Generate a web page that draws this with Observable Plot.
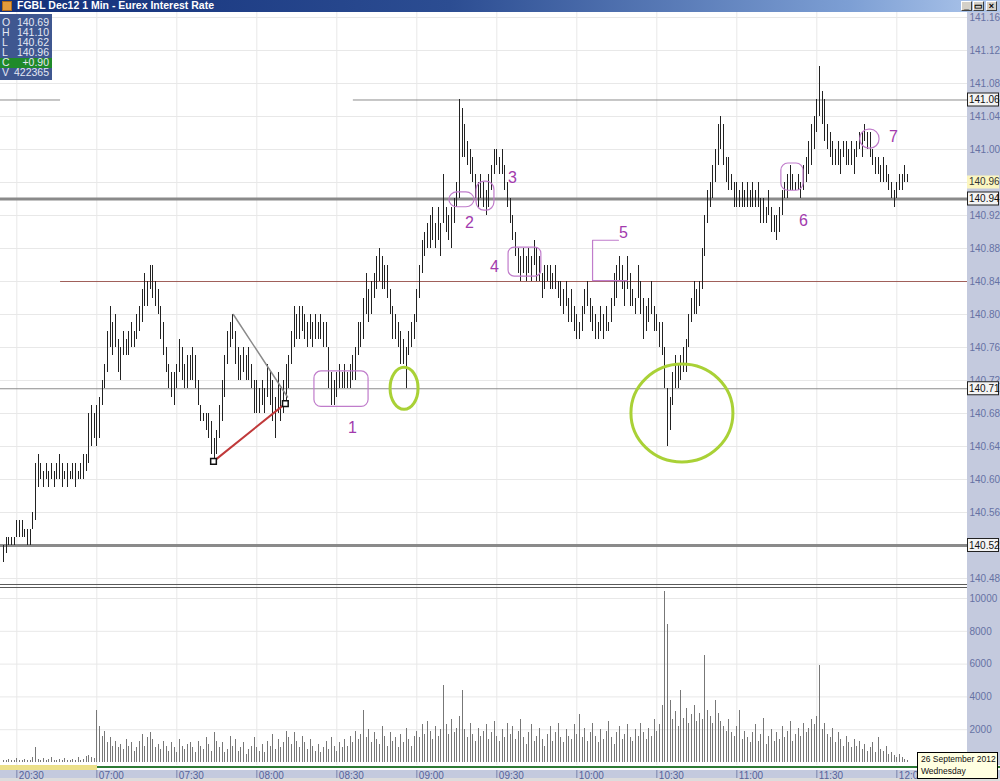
<!DOCTYPE html>
<html><head><meta charset="utf-8">
<script src="https://cdn.jsdelivr.net/npm/d3@7"></script>
<script src="https://cdn.jsdelivr.net/npm/@observablehq/plot@0.6"></script>
<style>
html,body{margin:0;padding:0;background:#fff;}
#root{position:relative;width:1000px;height:781px;overflow:hidden;background:#fff;font-family:"Liberation Sans",Arial,sans-serif;}
#root > *{position:absolute;}
</style></head><body><div id="root"></div>
<script>
// ---------------- DATA ----------------
const title = "FGBL Dec12 1 Min - Eurex Interest Rate";
const infoKeys = ["O","H","L","L","C","V"];
const infoVals = ["140.69","141.10","140.62","140.96","+0.90","422365"];
const dateLine1 = "26 September 2012";
const dateLine2 = "Wednesday";

// time axis (bar index of each label)
const timeLabels = ["20:30","07:00","07:30","08:00","08:30","09:00","09:30","10:00","10:30","11:00","11:30","12:00"];
const timeLabelBar = [5,35,65,95,125,155,185,215,245,275,305,335];

const priceTicks = [140.48,140.52,140.56,140.60,140.64,140.68,140.72,140.76,140.80,140.84,140.88,140.92,140.96,141.00,141.04,141.08,141.12,141.16];
const volumeTicks = [2000,4000,6000,8000,10000];

// 1-minute bars: highs and lows
const high = [
140.52,140.53,140.53,140.53,140.53,140.55,140.55,140.55,140.54,140.54,
140.54,140.56,140.62,140.63,140.62,140.61,140.62,140.61,140.62,140.61,
140.62,140.63,140.62,140.61,140.62,140.61,140.62,140.62,140.61,140.62,
140.63,140.63,140.68,140.69,140.68,140.69,140.70,140.72,140.74,140.78,
140.81,140.79,140.80,140.77,140.76,140.78,140.77,140.78,140.79,140.78,
140.80,140.81,140.83,140.85,140.84,140.86,140.86,140.84,140.83,140.81,
140.79,140.76,140.74,140.73,140.73,140.74,140.77,140.76,140.74,140.75,
140.75,140.76,140.75,140.72,140.69,140.68,140.68,140.68,140.67,140.65,
140.66,140.69,140.72,140.75,140.78,140.79,140.80,140.78,140.76,140.75,
140.76,140.75,140.76,140.74,140.72,140.72,140.71,140.72,140.71,140.74,
140.73,140.72,140.70,140.73,140.71,140.72,140.74,140.75,140.78,140.81,
140.80,140.81,140.81,140.80,140.79,140.80,140.79,140.80,140.79,140.80,
140.79,140.79,140.76,140.73,140.72,140.73,140.74,140.73,140.74,140.73,
140.74,140.75,140.76,140.79,140.79,140.82,140.85,140.83,140.84,140.85,
140.87,140.88,140.87,140.86,140.86,140.83,140.81,140.80,140.79,140.78,
140.77,140.76,140.78,140.79,140.80,140.83,140.86,140.89,140.90,140.91,
140.92,140.93,140.91,140.93,140.91,140.97,140.93,140.92,140.93,140.94,
140.96,141.06,141.05,141.03,141.01,141.00,140.99,140.97,140.96,140.97,
140.96,140.95,140.97,140.98,141.00,141.00,140.99,141.00,140.98,140.96,
140.94,140.92,140.90,140.88,140.87,140.88,140.87,140.88,140.87,140.89,
140.88,140.87,140.85,140.86,140.86,140.86,140.85,140.86,140.84,140.84,
140.83,140.84,140.82,140.83,140.81,140.80,140.79,140.81,140.83,140.84,
140.82,140.81,140.80,140.79,140.81,140.80,140.81,140.79,140.82,140.85,
140.86,140.87,140.86,140.84,140.87,140.85,140.83,140.82,140.86,140.84,
140.82,140.81,140.82,140.84,140.81,140.80,140.79,140.79,140.76,140.71,
140.70,140.73,140.75,140.74,140.75,140.76,140.77,140.80,140.82,140.84,
140.83,140.84,140.88,140.92,140.95,140.96,140.98,141.00,141.03,141.04,
141.03,140.99,140.99,140.97,140.96,140.96,140.95,140.96,140.95,140.96,
140.95,140.96,140.95,140.96,140.94,140.94,140.93,140.95,140.93,140.92,
140.92,140.93,140.95,140.96,140.97,140.98,140.97,140.96,140.97,140.96,
140.98,140.99,141.01,141.03,141.04,141.06,141.10,141.07,141.06,141.03,
141.02,141.01,141.00,141.01,141.00,141.01,141.01,141.00,141.01,141.00,
141.01,141.02,141.02,141.03,141.02,141.02,141.00,140.99,140.99,140.98,
140.99,140.98,140.97,140.96,140.95,140.96,140.97,140.97,140.98,140.97
];
const low = [
140.50,140.51,140.52,140.52,140.52,140.53,140.53,140.53,140.53,140.52,
140.52,140.54,140.55,140.59,140.60,140.59,140.60,140.59,140.60,140.59,
140.60,140.60,140.59,140.60,140.59,140.60,140.60,140.59,140.60,140.60,
140.60,140.61,140.62,140.64,140.65,140.64,140.65,140.69,140.71,140.73,
140.76,140.75,140.76,140.73,140.72,140.75,140.75,140.75,140.76,140.76,
140.77,140.78,140.79,140.81,140.81,140.83,140.82,140.81,140.80,140.77,
140.75,140.73,140.71,140.70,140.69,140.71,140.73,140.72,140.71,140.71,
140.72,140.72,140.71,140.69,140.67,140.67,140.66,140.65,140.63,140.62,
140.63,140.65,140.67,140.70,140.74,140.76,140.77,140.74,140.72,140.72,
140.73,140.72,140.72,140.71,140.68,140.68,140.68,140.69,140.68,140.70,
140.69,140.67,140.65,140.68,140.67,140.68,140.69,140.71,140.74,140.76,
140.77,140.77,140.78,140.77,140.76,140.77,140.76,140.77,140.77,140.77,
140.76,140.76,140.71,140.69,140.69,140.70,140.71,140.71,140.71,140.71,
140.71,140.72,140.72,140.75,140.76,140.77,140.80,140.79,140.80,140.82,
140.83,140.84,140.83,140.83,140.82,140.80,140.77,140.77,140.76,140.74,
140.74,140.71,140.75,140.76,140.77,140.79,140.82,140.85,140.87,140.88,
140.88,140.89,140.88,140.89,140.87,140.91,140.90,140.89,140.88,140.91,
140.93,140.94,140.99,140.99,140.98,140.97,140.96,140.94,140.93,140.94,
140.93,140.92,140.93,140.95,140.97,140.98,140.97,140.97,140.95,140.93,
140.91,140.89,140.87,140.85,140.84,140.85,140.84,140.85,140.84,140.86,
140.84,140.84,140.82,140.83,140.84,140.83,140.83,140.83,140.82,140.81,
140.80,140.81,140.79,140.79,140.78,140.77,140.77,140.78,140.80,140.81,
140.79,140.78,140.77,140.77,140.78,140.77,140.78,140.78,140.79,140.81,
140.82,140.84,140.83,140.81,140.83,140.81,140.81,140.80,140.82,140.80,
140.77,140.78,140.79,140.80,140.78,140.78,140.76,140.75,140.71,140.64,
140.66,140.69,140.71,140.71,140.72,140.73,140.73,140.76,140.79,140.80,
140.80,140.81,140.83,140.87,140.91,140.93,140.94,140.96,140.98,141.00,
140.98,140.96,140.95,140.95,140.93,140.93,140.93,140.93,140.93,140.93,
140.93,140.93,140.93,140.93,140.91,140.91,140.91,140.92,140.90,140.90,
140.89,140.90,140.92,140.94,140.94,140.95,140.95,140.95,140.95,140.94,
140.95,140.96,140.97,140.98,141.00,141.02,141.04,141.03,141.01,141.00,
140.99,140.98,140.98,140.98,140.97,140.99,140.98,140.98,140.98,140.97,
140.99,141.00,140.99,141.01,141.00,140.99,140.98,140.97,140.97,140.96,
140.96,140.96,140.95,140.94,140.93,140.94,140.95,140.95,140.96,140.96
];
const volume = [
150,100,200,150,100,250,100,150,200,100,
150,300,900,200,150,250,100,200,300,150,
100,200,150,250,100,150,200,100,300,150,
200,350,450,300,250,3200,2200,1600,1900,1200,
1500,1000,1300,900,1100,800,1400,1000,1200,700,
900,1300,1700,1000,1500,1800,1400,900,1100,800,
1300,1000,700,1200,900,600,1400,1000,800,1100,
1200,900,600,1300,1000,800,1500,1100,700,1800,
1300,900,1200,600,800,1600,1000,1400,700,900,
1200,500,800,1000,1500,900,700,1100,600,1300,
1000,1700,800,1400,900,1200,1900,1500,1100,1800,
1300,900,1600,1200,800,1400,1000,700,1100,600,
900,1300,800,1500,1000,700,1200,900,1400,1000,
1600,1200,1900,1400,1700,3200,1500,2000,1200,1800,
1400,1100,2200,1600,1000,1800,1300,1500,900,1700,
1200,2100,1400,1000,1600,1900,1500,2300,1700,2500,
1900,1400,2200,1600,2000,4700,2300,1700,2600,1800,
2100,2800,4400,2000,1500,2400,1700,1300,2100,1600,
1900,2300,1400,1800,2500,1600,1300,2000,1500,2400,
1700,2200,1400,1900,2600,1500,1100,1800,2300,1300,
1600,2100,1400,1000,1700,2200,1300,1800,2400,1500,
1200,2000,1600,1400,2300,1700,2900,1500,2100,1300,
1800,2400,1600,1200,2000,1400,1900,2500,1500,1100,
1800,2200,1400,1700,2300,1500,1300,2000,1600,2400,
1800,1400,2100,1600,2600,1900,2300,3500,10400,8400,
3800,2600,3100,2200,4400,2700,3300,2400,2900,3500,
2500,3000,2600,6500,3200,2800,2400,3800,3000,2500,
2200,1900,2600,1800,1600,2200,3200,1400,1900,1500,
1200,1800,2300,1300,1700,2700,1100,1600,2000,1300,
1800,1400,2200,1500,1900,2500,1300,1700,2100,1600,
2400,1800,2100,2600,2300,2800,5900,2000,2400,1700,
1500,2100,1200,1800,1400,1000,1600,1200,900,1400,
1000,1300,800,1100,700,900,1200,600,1500,800,
700,1000,500,600,400,300,500,300,200,150
];

// drawn horizontal levels (price, first/last bar of the drawn segment)
const thinLevelPrice = [141.06, 141.06, 140.71];
const thinLevelStart = [131.2, -1.125, -1.125];
const thinLevelEnd   = [361.5, 21.4, 361.5];
const redLevelPrice = [140.84];
const redLevelStart = [21.4];
const thickLevelPrice = [140.94, 140.52];
const boxedPrice = [141.06, 140.94, 140.71, 140.52];
const lastPrice = [140.96];

// trend lines (bar index, price)
const grayTrendBar = [86.2, 106.5];
const grayTrendPrice = [140.80, 140.70];
const redTrendBar = [78.75, 105.7];
const redTrendPrice = [140.622, 140.692];

// numbered annotations
const noteText = ["1","2","3","4","5","6","7"];
const noteBar = [130.9,174.7,190.9,184.1,232.5,300.0,333.7];
const notePrice = [140.662,140.911,140.966,140.858,140.899,140.914,141.015];
const boxBar1 = [116.6,167.2,177.4,189.4,291.7,321.3];
const boxBar2 = [136.9,176.6,184.1,201.7,300.0,328.5];
const boxTop = [140.731,140.948,140.961,140.881,140.983,141.024];
const boxBottom = [140.688,140.930,140.926,140.846,140.950,141.001];
const bracketBar = [230.6,220.9,220.9,234.0];
const bracketPrice = [140.890,140.890,140.841,140.841];
const circleBar = [150.4, 254.6];
const circlePrice = [140.710, 140.680];

// ---------------- BUILD ----------------
const root = document.getElementById("root");
const bars = high.map((h,k)=>({i:k, high:h, low:low[k], vol:volume[k]}));
const X_DOMAIN = [-1.125, 361.5];
const FONT = "Liberation Sans, Arial, sans-serif";
const AXIS_COLOR = "#6672a4";
const hiddenTick = new Set([...lastPrice, 140.52].map(p=>p.toFixed(2)));

function div(left, top, w, h, css, html){
  const d = document.createElement("div");
  d.style.cssText = `position:absolute;left:${left}px;top:${top}px;width:${w}px;height:${h}px;${css||""}`;
  if (html) d.innerHTML = html;
  root.appendChild(d);
  return d;
}
function place(chart, left, top){
  chart.style.position = "absolute";
  chart.style.left = left+"px";
  chart.style.top = top+"px";
  root.appendChild(chart);
}

// right axis strip background
div(967, 12, 33, 753, "background:#c4cade;");

// --- price panel ---
const lvl = (prices, starts, ends) => prices.map((p,k)=>({p, a: starts ? starts[k] : X_DOMAIN[0], b: ends ? ends[k] : X_DOMAIN[1]}));
const rects = boxBar1.map((b,k)=>({x1:b, x2:boxBar2[k], y1:boxBottom[k], y2:boxTop[k]}));
const rectRadius = [7,8,8,6,7,9];
const priceChart = Plot.plot({
  width:1000, height:576, marginLeft:0, marginRight:33, marginTop:0, marginBottom:0,
  style:{background:"transparent", fontFamily:FONT, fontSize:"10px", color:AXIS_COLOR, overflow:"visible"},
  x:{domain:X_DOMAIN, axis:null},
  y:{domain:[140.46788,141.16606], axis:"right", ticks:priceTicks, tickFormat:d=>hiddenTick.has(d.toFixed(2)) ? "" : d.toFixed(2), tickSize:0, tickPadding:2, label:null},
  marks:[
    Plot.ruleY(priceTicks,{stroke:"#e8e8e8"}),
    Plot.ruleX(timeLabelBar,{stroke:"#e8e8e8"}),
    Plot.ruleY(lvl(thinLevelPrice, thinLevelStart, thinLevelEnd),{y:"p", x1:"a", x2:"b", stroke:"#8c8c8c", strokeWidth:1}),
    Plot.ruleY(lvl(redLevelPrice, redLevelStart),{y:"p", x1:"a", x2:"b", stroke:"#a0605a", strokeWidth:1}),
    Plot.ruleY(lvl(thickLevelPrice),{y:"p", x1:"a", x2:"b", stroke:"#8a8a8a", strokeWidth:3}),
    Plot.ruleX(bars,{x:"i", y1:"low", y2:"high", stroke:"#222", strokeWidth:1, shapeRendering:"crispEdges"}),
    Plot.line(grayTrendBar.map((b,k)=>({b, p:grayTrendPrice[k]})),{x:"b", y:"p", stroke:"#8a8a8a", strokeWidth:1.5}),
    Plot.line(redTrendBar.map((b,k)=>({b, p:redTrendPrice[k]})),{x:"b", y:"p", stroke:"#c0393a", strokeWidth:2}),
    Plot.dot(redTrendBar.map((b,k)=>({b, p:redTrendPrice[k]})),{x:"b", y:"p", symbol:"square", r:3.2, fill:"white", stroke:"#111", strokeWidth:1.5}),
    ...rects.map((r,k)=>Plot.rect([r],{x1:"x1", x2:"x2", y1:"y1", y2:"y2", fill:"none", stroke:"#c07ccb", strokeWidth:1.2, rx:rectRadius[k]})),
    Plot.line(bracketBar.map((b,k)=>({b, p:bracketPrice[k]})),{x:"b", y:"p", stroke:"#c07ccb", strokeWidth:1.2}),
    Plot.text(noteText.map((t,k)=>({t, b:noteBar[k], p:notePrice[k]})),{x:"b", y:"p", text:"t", fill:"#a23aad", fontSize:16, fontFamily:FONT})
  ]
});
place(priceChart, 0, 12);
{
  const svg = d3.select(priceChart.tagName.toLowerCase()==="svg" ? priceChart : priceChart.querySelector("svg"));
  const xs = priceChart.scale("x"), ys = priceChart.scale("y");
  const rx = [14, 51], ry = [21, 49];
  circleBar.forEach((b,k)=>{
    svg.append("ellipse").attr("cx", xs.apply(b)).attr("cy", ys.apply(circlePrice[k]))
      .attr("rx", rx[k]).attr("ry", ry[k]).attr("fill","none").attr("stroke","#a9d136").attr("stroke-width",3);
  });
  const labelG = svg.append("g").attr("font-family", FONT).attr("font-size", 10).attr("text-anchor","start");
  boxedPrice.forEach(p=>{
    const y = ys.apply(p);
    labelG.append("rect").attr("x",967.5).attr("y",y-6.5).attr("width",31).attr("height",13).attr("fill","#f4f4f4").attr("stroke","#222");
    labelG.append("text").attr("x",969).attr("y",y+3.5).attr("fill","#111").text(p.toFixed(2));
  });
  lastPrice.forEach(p=>{
    const y = ys.apply(p);
    labelG.append("rect").attr("x",967).attr("y",y-6.5).attr("width",32).attr("height",13).attr("fill","#fbf6c0");
    labelG.append("text").attr("x",969).attr("y",y+3.5).attr("fill","#333").text(p.toFixed(2));
  });
}

// separator double line
div(0, 584, 967, 1, "background:#5a5a5a;");
div(0, 587, 967, 1, "background:#5a5a5a;");

// --- volume panel ---
const volChart = Plot.plot({
  width:1000, height:177, marginLeft:0, marginRight:33, marginTop:0, marginBottom:0,
  style:{background:"transparent", fontFamily:FONT, fontSize:"10px", color:AXIS_COLOR, overflow:"visible"},
  x:{domain:X_DOMAIN, axis:null},
  y:{domain:[-183,10610], axis:"right", ticks:volumeTicks, tickFormat:d=>String(d), tickSize:0, tickPadding:2, label:null},
  marks:[
    Plot.ruleY(volumeTicks,{stroke:"#e8e8e8"}),
    Plot.ruleX(timeLabelBar,{stroke:"#e8e8e8"}),
    Plot.ruleX(bars,{x:"i", y1:0, y2:"vol", stroke:"#777", strokeWidth:1, shapeRendering:"crispEdges"})
  ]
});
place(volChart, 0, 588);

// --- time axis strip ---
div(0, 765, 97, 5, "background:#ece08a;");
div(97, 766, 903, 2, "background:#2d7a35;");
div(0, 770, 1000, 8, "background:#c4cade;");
div(0, 778, 1000, 3, "background:#dcdcdc;");
const timeChart = Plot.plot({
  width:1000, height:16, marginLeft:0, marginRight:33, marginTop:5, marginBottom:3,
  style:{background:"transparent", fontFamily:FONT, fontSize:"10px", overflow:"visible"},
  x:{domain:X_DOMAIN, axis:null},
  marks:[
    Plot.ruleX(timeLabelBar,{stroke:"#7a84ae", strokeWidth:1}),
    Plot.text(timeLabels.map((t,k)=>({t, b:timeLabelBar[k]})),{x:"b", text:"t", textAnchor:"start", dx:2, dy:1, fill:"#56639a"})
  ]
});
place(timeChart, 0, 765);

// --- title bar ---
div(0, 0, 1000, 12, "background:linear-gradient(to right,#13307a 0%,#2c4d92 45%,#7d9fd4 85%,#b0c8ec 100%);");
div(2, 1, 10, 10, "background:#e39a3c;border:1px solid #b06a1a;box-sizing:border-box;");
div(17, -1, 400, 13, `color:#fff;font:bold 10.5px ${FONT};line-height:13px;white-space:nowrap;`, title);
[["_",961],["&#9645;",973],["&#215;",986]].forEach(([g,l])=>{
  div(l, 1, 11, 10, `background:#d4d0c8;border:1px solid;border-color:#fff #404040 #404040 #fff;box-sizing:border-box;color:#000;font:bold 9px ${FONT};line-height:8px;text-align:center;`, g);
});

// --- OHLC info box ---
div(0, 14, 52, 66, "background:#3f5790;");
div(0, 58, 52, 10, "background:#1f8a2a;");
infoKeys.forEach((k,n)=>{
  div(2, 17 + n*10, 12, 11, `color:#e4e8f4;font:10.5px ${FONT};line-height:11px;`, k);
  div(12, 17 + n*10, 37, 11, `color:#e4e8f4;font:10.5px ${FONT};line-height:11px;text-align:right;`, infoVals[n]);
});

// --- date tooltip ---
div(917, 752, 81, 27, `background:#ffffe1;border:1px solid #000;box-sizing:border-box;color:#111;font:8.5px ${FONT};line-height:11.5px;padding:1px 0 0 3px;white-space:nowrap;`, dateLine1 + "<br>" + dateLine2);
</script></body></html>
